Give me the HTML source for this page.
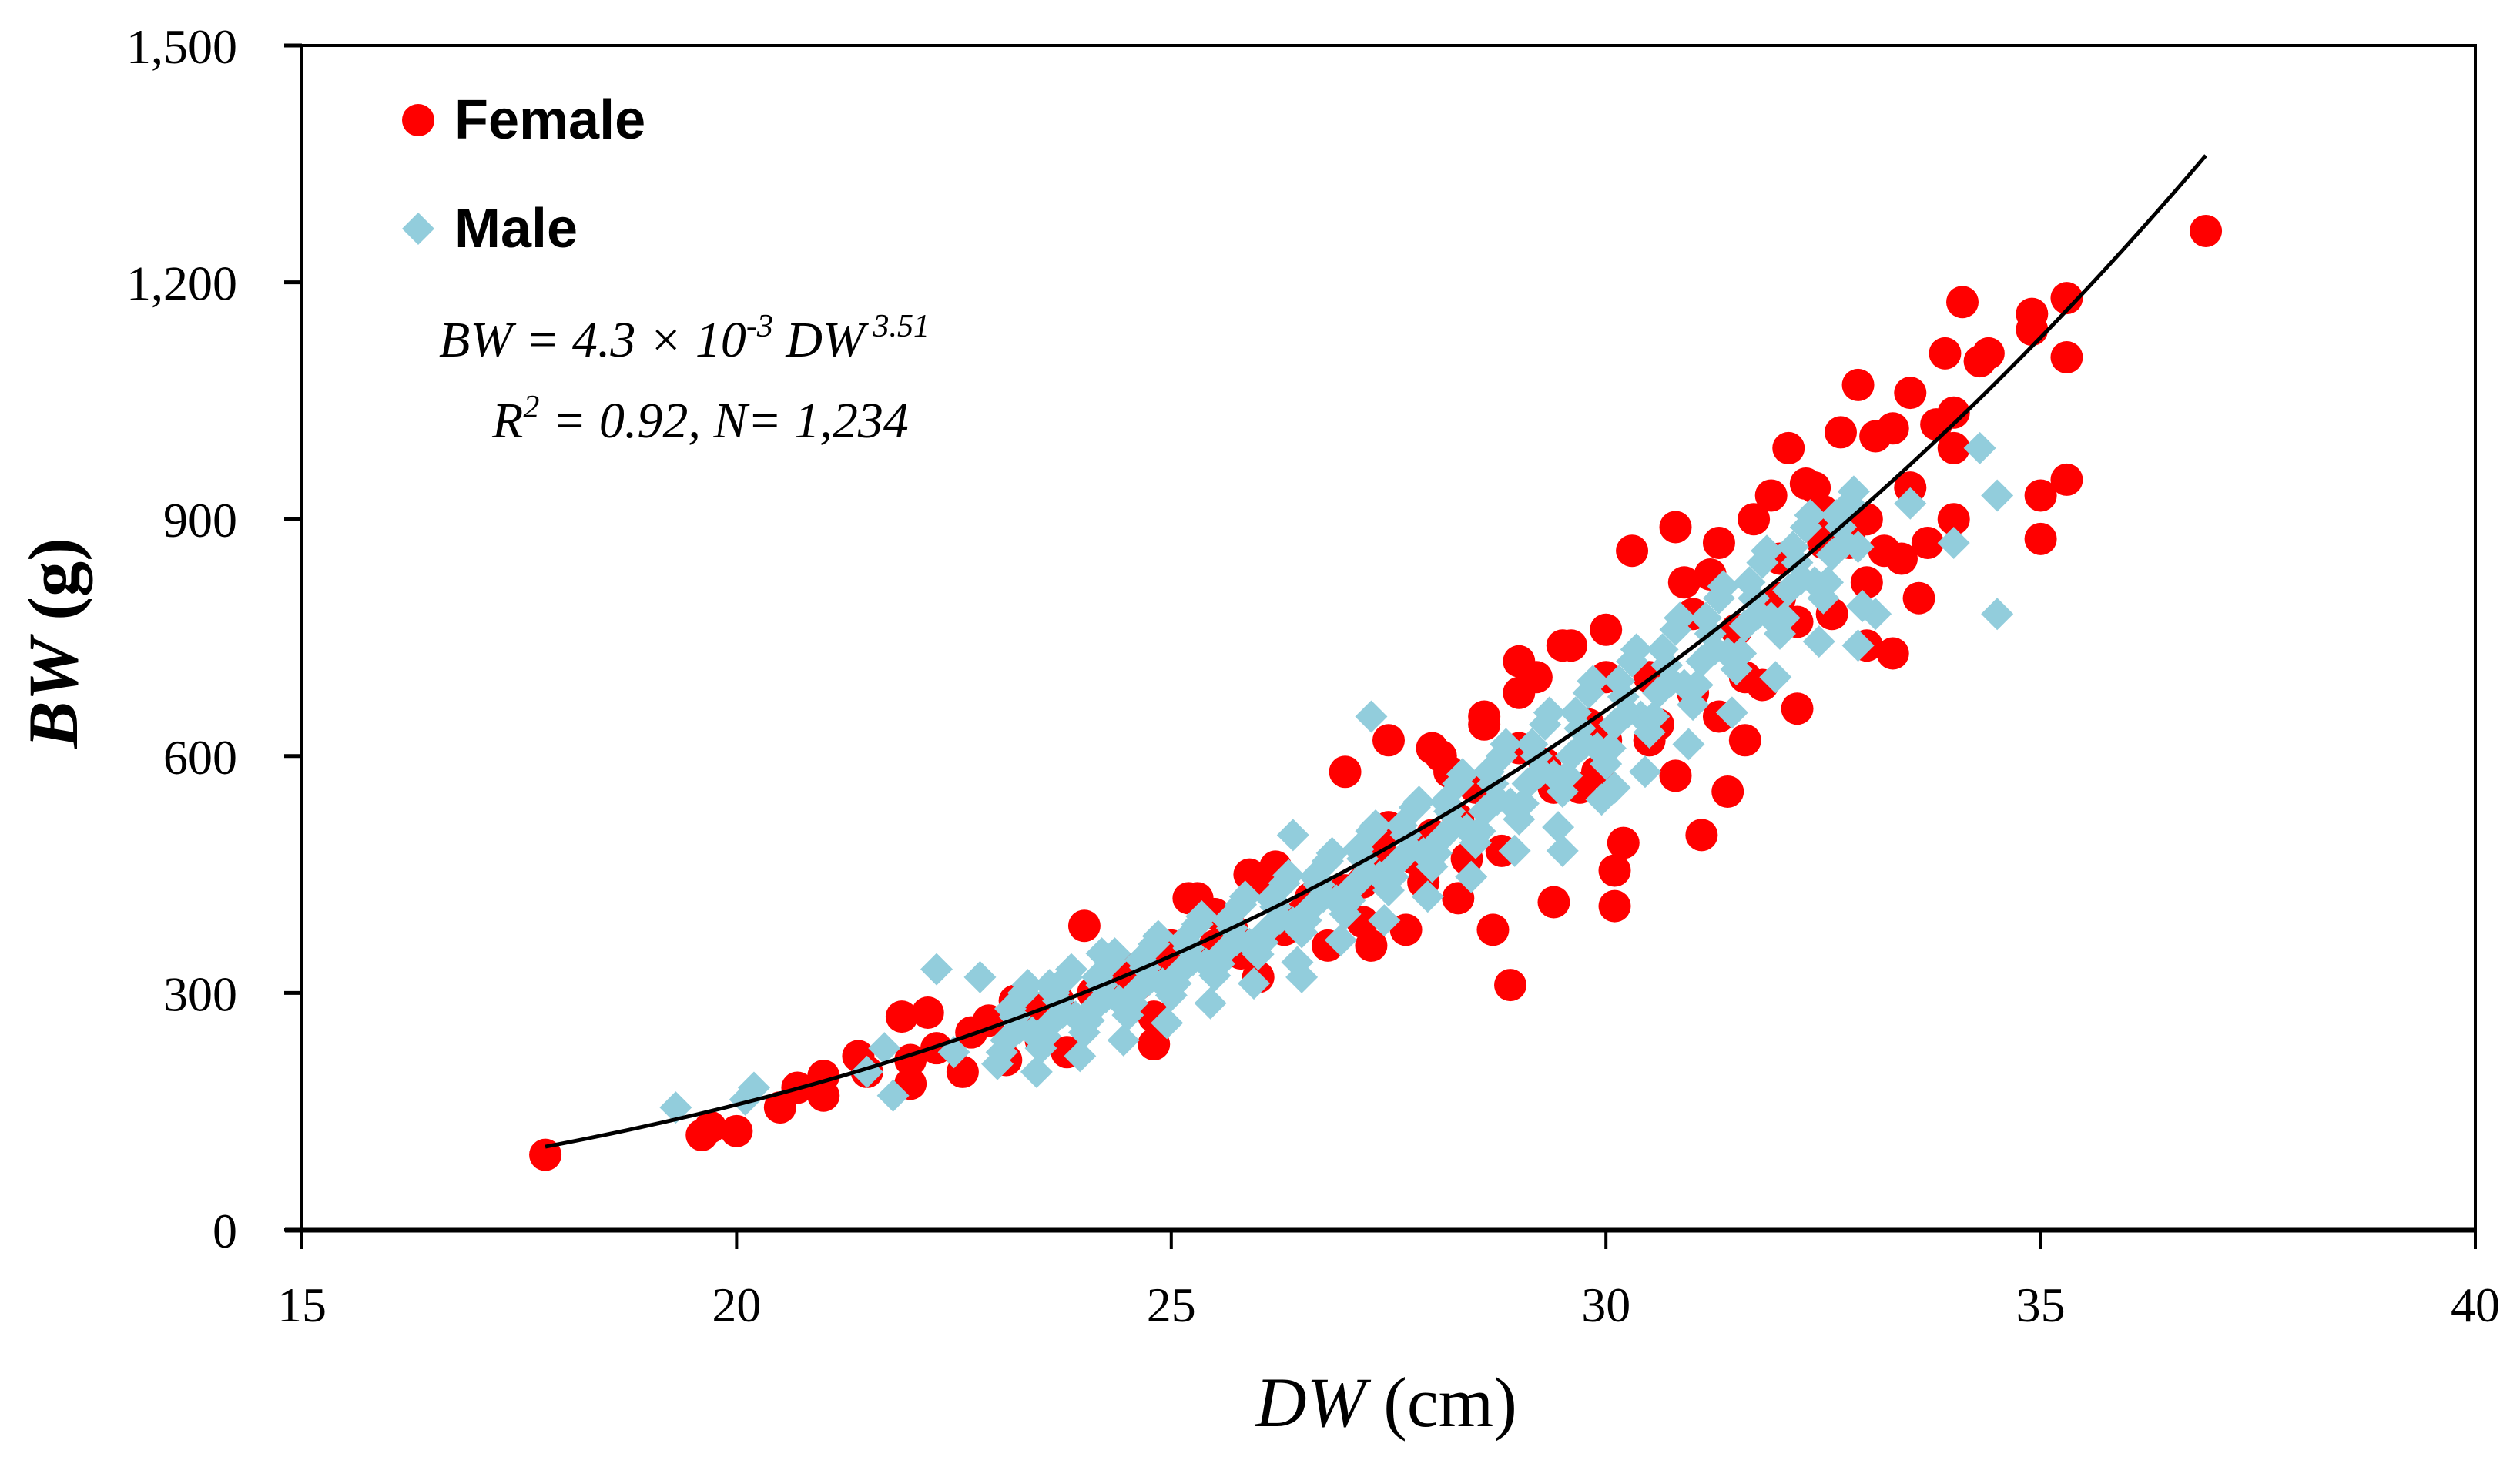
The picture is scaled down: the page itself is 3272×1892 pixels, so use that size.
<!DOCTYPE html>
<html><head><meta charset="utf-8">
<style>
html,body{margin:0;padding:0;background:#fff;}
svg{display:block;}
</style></head>
<body>
<svg id="chart" width="3272" height="1892" viewBox="0 0 3272 1892" xmlns="http://www.w3.org/2000/svg">
<rect width="3272" height="1892" fill="#fff"/>
<g id="marks-female"></g>
<g id="marks-male"></g>
<g id="fit"></g>
<g id="axes"></g>
<g>
  <circle cx="543" cy="156" r="21" fill="#ff0000"/>
  <text x="590" y="180" font-family="Liberation Sans, sans-serif" font-weight="bold" font-size="72">Female</text>
  <polygon points="543,276 564,297 543,318 522,297" fill="#92cddc"/>
  <text x="590" y="321" font-family="Liberation Sans, sans-serif" font-weight="bold" font-size="72">Male</text>
</g>
<text x="570" y="463" font-family="Liberation Serif, serif" font-style="italic" font-size="66">BW = 4.3 × 10<tspan font-size="42" dy="-26">-3</tspan><tspan dy="26"> DW</tspan><tspan font-size="42" dy="-26"> 3.51</tspan></text>
<text x="639" y="568" font-family="Liberation Serif, serif" font-style="italic" font-size="66">R<tspan font-size="42" dy="-26">2</tspan><tspan dy="26"> = 0.92, N= 1,234</tspan></text>
<text x="1800" y="1852" text-anchor="middle" font-family="Liberation Serif, serif" font-size="92"><tspan font-style="italic">DW</tspan> (cm)</text>
<text transform="translate(100,835) rotate(-90)" text-anchor="middle" font-family="Liberation Serif, serif" font-weight="bold" font-size="92"><tspan font-style="italic">BW</tspan> (g)</text>
</svg>
<script>
const xTicks = [15, 20, 25, 30, 35, 40];
const yTicks = [0, 300, 600, 900, 1200, 1500];
const yTickLabels = ["0", "300", "600", "900", "1,200", "1,500"];
const femaleDW = [17.8,19.6,19.7,20,20.5,20.7,21,21,21.4,21.5,21.9,22,22.2,22.3,22.6,22.7,23.1,23.3,23.5,23.8,24,24.1,24.5,24.8,24.8,25,25.2,25.5,25.9,26,26.3,26.8,27,27.2,27.3,27.5,27.7,28,28.2,28.3,28.6,28.7,28.8,28.9,29,29.2,29.4,29.5,29.7,30,30.1,30.1,30.2,30.3,30.5,30.8,30.8,31.1,31.2,31.3,31.4,31.6,31.8,31.9,32,32.1,32.2,32.3,32.5,32.7,32.8,32.9,33,33.1,33.3,33.3,33.5,33.6,33.7,33.8,33.9,34,34,34.1,34.3,34.4,34.9,34.9,35,35,35.3,35.3,35.3,36.9,33.4,32.6,31.5,30.5,29.8,29,28.5,27.8,27,26.5,25.7,25,24.3,23.7,22.9,26,27.5,28,29,30,31,32,33,33.5,31,30,29.3,28.3,27.4,26.6,25.5,24.5,23.5,22,32.5,33,34,31.7,32.4,32.8,33.2,30.9,29.6,28.1,28.6,25.3,24.6,23.2,26.2,27.2,28.4,29.4,30.6,31.6,32.2,25.8,27.9,29.9,31.3];
const femaleBW = [95,120,130,125,155,180,170,195,220,200,270,185,275,230,200,250,215,260,240,225,385,300,330,235,270,340,420,400,450,320,380,360,580,440,360,620,380,500,580,420,650,380,480,310,720,700,415,740,560,760,410,455,490,860,620,890,575,500,830,870,555,620,690,930,850,990,660,945,910,1010,870,1070,740,1005,730,1015,1060,800,870,1020,1110,990,900,1175,1100,1110,1160,1140,930,875,1180,1105,950,1265,850,780,760,700,640,610,560,470,430,400,380,360,330,290,265,440,510,610,680,700,780,800,900,940,680,620,590,520,480,420,360,300,280,215,870,820,1035,900,940,880,860,820,740,600,640,420,310,290,460,390,470,560,640,700,770,350,440,580,650];
const maleDW = [19.3,20.2,20.1,21.5,21.8,21.7,22.3,22.5,22.8,23.6,24.2,26.4,26.5,27.3,29.5,30.1,33.1,33.5,34,34.3,34.5,34.5,32.9,
 23.0,23.1,23.2,23.3,23.4, 23.5,23.6,23.7,23.8,23.9, 24.0,24.1,24.2,24.3,24.4, 24.5,24.6,24.7,24.8,24.9,
 25.0,25.1,25.2,25.3,25.4, 25.5,25.6,25.7,25.8,25.9, 26.0,26.1,26.2,26.3,26.4, 26.5,26.6,26.7,26.8,26.9,
 27.0,27.1,27.2,27.3,27.4, 27.5,27.6,27.7,27.8,27.9, 28.0,28.1,28.2,28.3,28.4, 28.5,28.6,28.7,28.8,28.9,
 29.0,29.1,29.2,29.3,29.4, 29.5,29.6,29.7,29.8,29.9, 30.0,30.1,30.2,30.3,30.4, 30.5,30.6,30.7,30.8,30.9,
 31.0,31.1,31.2,31.3,31.4, 31.5,31.6,31.7,31.8,31.9, 32.0,32.1,32.2,32.3,32.4, 32.5,32.6,32.7,32.8,32.9,
 23.05,23.15,23.25,23.35,23.45, 23.55,23.65,23.75,23.85,23.95, 24.05,24.15,24.25,24.35,24.45, 24.55,24.65,24.75,24.85,24.95,
 25.05,25.15,25.25,25.35,25.45, 25.55,25.65,25.75,25.85,25.95, 26.05,26.15,26.25,26.35,26.45, 26.55,26.65,26.75,26.85,26.95,
 27.05,27.15,27.25,27.35,27.45, 27.55,27.65,27.75,27.85,27.95, 28.05,28.15,28.25,28.35,28.45, 28.55,28.65,28.75,28.85,28.95,
 29.05,29.15,29.25,29.35,29.45, 29.55,29.65,29.75,29.85,29.95, 30.05,30.15,30.25,30.35,30.45, 30.55,30.65,30.75,30.85,30.95,
 31.05,31.15,31.25,31.35,31.45, 31.55,31.65,31.75,31.85,31.95, 32.05,32.15,32.25,32.35,32.45, 32.55,32.65,32.75,32.85,32.95];
const maleBW = [155,180,165,200,170,230,330,225,320,310,350,500,320,650,480,560,780,920,870,990,930,780,740,
 210,240,270,300,250, 230,260,290,320,270, 250,280,310,340,290, 272,302,332,362,312,
 297,327,357,387,337, 322,352,382,412,362, 349,379,409,439,389, 377,407,437,467,417,
 400,435,470,505,447, 430,465,500,535,477, 460,495,530,565,507, 490,530,565,600,540,
 520,565,600,640,575, 555,600,635,680,610, 590,640,675,720,650, 630,680,715,760,690,
 665,720,755,800,730, 710,765,800,845,775, 755,810,845,890,820, 800,855,890,920,865,
 225,280,255,310,200, 245,300,275,330,220, 265,320,295,350,240, 287,342,317,372,262,
 312,367,342,397,287, 337,392,367,422,312, 364,419,394,449,339, 392,447,422,477,367,
 417,482,452,512,392, 447,512,482,542,422, 477,542,512,577,447, 505,580,545,615,480,
 540,615,580,655,510, 575,655,615,695,545, 610,695,655,735,580, 650,735,695,775,615,
 690,775,735,815,655, 730,820,780,860,700, 775,865,825,905,745, 820,905,870,935,790];
const fitA = 0.0043, fitB = 3.51, fitMin = 17.8, fitMax = 36.9;

const L=392, R=3214, T=59, B=1597;
const sx = v => L + (v - 15) / (40 - 15) * (R - L);
const sy = v => B - v / 1500 * (B - T);
const NS = "http://www.w3.org/2000/svg";
function mk(tag, attrs, parent){ const e=document.createElementNS(NS,tag); for(const k in attrs) e.setAttribute(k,attrs[k]); parent.appendChild(e); return e; }

const gf = document.getElementById('marks-female');
femaleDW.forEach((d,i)=>{
  const c = mk('circle',{cx:sx(d),cy:sy(femaleBW[i]),r:21,fill:'#ff0000'},gf);
  
  
});
const gm = document.getElementById('marks-male');
maleDW.forEach((d,i)=>{
  const x=sx(d), y=sy(maleBW[i]);
  const p = mk('polygon',{points:`${x},${y-21} ${x+21},${y} ${x},${y+21} ${x-21},${y}`,fill:'#92cddc'},gm);
  
  
});
let pts=[];
for(let k=0;k<=100;k++){ const d=fitMin+(fitMax-fitMin)*k/100; pts.push(sx(d)+','+sy(fitA*Math.pow(d,fitB))); }
const fl = mk('polyline',{points:pts.join(' '),fill:'none',stroke:'#000','stroke-width':5},document.getElementById('fit'));



const ga = document.getElementById('axes');
const frame = mk('rect',{x:L,y:T,width:R-L,height:B-T,fill:'none',stroke:'#000','stroke-width':4},ga);


const xa = mk('line',{x1:L-22,y1:B,x2:R,y2:B,stroke:'#000','stroke-width':7},ga);


xTicks.forEach(v=>{
  const t = mk('line',{x1:sx(v),y1:B,x2:sx(v),y2:B+25,stroke:'#000','stroke-width':4},ga);
  
  
  const lb = mk('text',{x:sx(v),y:1716,'text-anchor':'middle','font-family':'Liberation Serif, serif','font-size':64},ga);
  lb.textContent = String(v);
  
  
});
yTicks.forEach((v,i)=>{
  const t = mk('line',{x1:L-23,y1:sy(v),x2:L,y2:sy(v),stroke:'#000','stroke-width':5},ga);
  
  
  const lb = mk('text',{x:308,y:sy(v)+23,'text-anchor':'end','font-family':'Liberation Serif, serif','font-size':64},ga);
  lb.textContent = yTickLabels[i];
  
  
});
</script>
</body></html>
